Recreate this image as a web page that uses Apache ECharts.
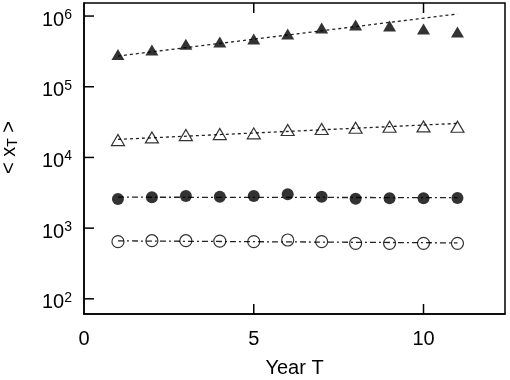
<!DOCTYPE html>
<html>
<head>
<meta charset="utf-8">
<script src="https://cdn.jsdelivr.net/npm/echarts@6/dist/echarts.min.js"></script>
<style>
  html, body { margin: 0; padding: 0; background: #fff; }
  #chart { width: 510px; height: 380px; }
</style>
</head>
<body>
<div id="chart"></div>
<script>
// data
const years = [1, 2, 3, 4, 5, 6, 7, 8, 9, 10, 11];
const filledTriangles = [285000, 330000, 400000, 430000, 473000, 556000, 677000, 746000, 722000, 655000, 594000];
const openTriangles = [17600, 19200, 20700, 21400, 21900, 24400, 25200, 26300, 27200, 27500, 27200];
const filledCircles = [2580, 2730, 2840, 2780, 2840, 3010, 2780, 2600, 2640, 2640, 2665];
const openCircles = [643, 664, 664, 655, 643, 679, 643, 610, 610, 610, 610];

// fitted lines (end points at T = 1 and T = 11)
const fitYears = [1, 11];
const fitFilledTriangles = [272000, 1070000];
const fitOpenTriangles = [18000, 30300];
const fitFilledCircles = [2740, 2700];
const fitOpenCircles = [660, 618];

// tick positions (the frame has inward ticks)
const xTicks = [5, 10];
const yTicks = [100, 1000, 10000, 100000, 1000000];
const xMin = 0, xMax = 12.4;
const yMin = 61, yMax = 1530000;

const font = 'Liberation Sans, Arial, sans-serif';
const chart = echarts.init(document.getElementById('chart'));

const pairs = (xs, ys) => xs.map((x, i) => [x, ys[i]]);

const fitLine = (ys, dash) => ({
  type: 'line',
  data: pairs(fitYears, ys),
  symbol: 'none',
  silent: true,
  z: 1,
  lineStyle: { color: '#222', width: 1.3, type: dash }
});

const markers = (ys, symbol, filled, size) => ({
  type: 'scatter',
  data: pairs(years, ys),
  symbol: symbol,
  symbolSize: size,
  z: 3,
  itemStyle: filled
    ? { color: '#000' }
    : { color: 'rgba(0,0,0,0)', borderColor: '#000', borderWidth: 1.2 }
});

const tickLen = 10;
const tickW = 1.5;

// inward frame ticks, drawn once from a single anchor point well inside the plot;
// every tick position comes from the axes' scales via api.coord
const tickSeries = {
  type: 'custom',
  silent: true,
  clip: false,
  z: 5,
  data: [[xTicks[0], yTicks[1]]],
  renderItem: (params, api) => {
    const cs = params.coordSys;
    const top = cs.y, bottom = cs.y + cs.height, left = cs.x;
    const children = [];
    xTicks.forEach(v => {
      const x = api.coord([v, yTicks[1]])[0];
      children.push({ type: 'rect', shape: { x: x - tickW / 2, y: bottom - tickLen, width: tickW, height: tickLen }, style: { fill: '#000' } });
      children.push({ type: 'rect', shape: { x: x - tickW / 2, y: top, width: tickW, height: tickLen }, style: { fill: '#000' } });
    });
    yTicks.forEach(v => {
      const y = api.coord([xTicks[0], v])[1];
      children.push({ type: 'rect', shape: { x: left, y: y - tickW / 2, width: tickLen, height: tickW }, style: { fill: '#000' } });
    });
    return { type: 'group', children: children };
  }
};

const axisLine = { show: true, onZero: false, lineStyle: { color: '#000', width: 1.5 } };

const option = {
  animation: false,
  grid: {
    left: 84, right: 5, top: 3, bottom: 66,
    containLabel: false,
    outerBoundsMode: 'none',
    show: true, borderColor: '#000', borderWidth: 1.5
  },
  xAxis: {
    type: 'value',
    min: xMin, max: xMax, interval: 5,
    name: 'Year T',
    nameLocation: 'middle',
    nameGap: 44,
    nameTextStyle: { fontFamily: font, fontSize: 20, color: '#000' },
    axisLine: axisLine,
    axisTick: { show: false },
    axisLabel: {
      margin: 15, fontFamily: font, fontSize: 20, color: '#000',
      formatter: v => (v % 5 === 0 ? String(v) : '')
    },
    splitLine: { show: false }
  },
  yAxis: {
    type: 'log',
    logBase: 10,
    min: yMin, max: yMax,
    name: '{t|< x}{sub|T}{t| >}',
    nameLocation: 'middle',
    nameRotate: 90,
    nameGap: 64,
    nameTextStyle: {
      padding: [0, 0, 0, 22],
      rich: {
        t: { fontFamily: font, fontSize: 20, color: '#000' },
        sub: { fontFamily: font, fontSize: 14, color: '#000', padding: [8, 0, 0, 0] }
      }
    },
    axisLine: axisLine,
    axisTick: { show: false },
    axisLabel: {
      margin: 12,
      padding: [8, 0, 0, 0],
      showMinLabel: false,
      showMaxLabel: false,
      formatter: v => {
        const e = Math.log10(v);
        if (Math.abs(e - Math.round(e)) > 1e-6) return '';
        return '{b|10}{s|' + Math.round(e) + '}';
      },
      rich: {
        b: { fontFamily: font, fontSize: 20, color: '#000' },
        s: { fontFamily: font, fontSize: 14, color: '#000', padding: [0, 0, 10, 0] }
      }
    },
    splitLine: { show: false }
  },
  series: [
    fitLine(fitFilledTriangles, [3, 3]),
    fitLine(fitOpenTriangles, [3, 3]),
    fitLine(fitFilledCircles, [6, 3, 2, 3]),
    fitLine(fitOpenCircles, [6, 3, 2, 3]),
    markers(filledTriangles, 'triangle', true, [13, 11]),
    markers(openTriangles, 'triangle', false, [13, 11]),
    markers(filledCircles, 'circle', true, 12),
    markers(openCircles, 'circle', false, 12),
    tickSeries
  ]
};

chart.setOption(option);
</script>
</body>
</html>
